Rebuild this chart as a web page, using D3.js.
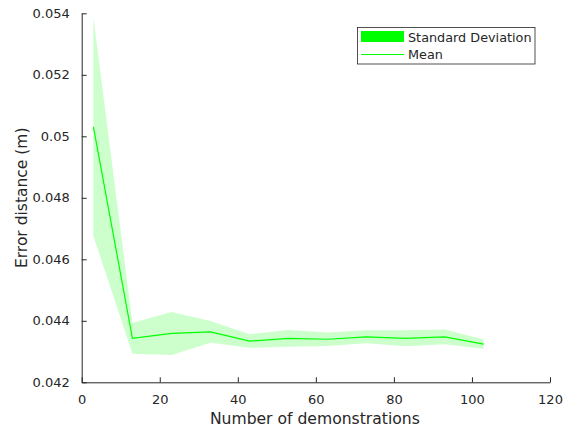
<!DOCTYPE html>
<html>
<head>
<meta charset="utf-8">
<script src="https://cdn.jsdelivr.net/npm/d3@7"></script>
<style>
  body { margin: 0; background: #fff; }
  text { font-family: "DejaVu Sans", sans-serif; fill: #262626; }
</style>
</head>
<body>
<div id="chart"></div>
<script>
// demonstrations count and error stats
const demos = [3, 13, 23, 33, 43, 53, 63, 73, 83, 93, 103];
const meanErr = [0.05031, 0.04343, 0.04359, 0.04364, 0.04334, 0.04343, 0.04340, 0.04348, 0.04343, 0.04348, 0.04324];
const stdErr = [0.00355, 0.00050, 0.00070, 0.00035, 0.00022, 0.00027, 0.00022, 0.00021, 0.00026, 0.00024, 0.00015];
const xTicks = [0, 20, 40, 60, 80, 100, 120];
const yTicks = [0.042, 0.044, 0.046, 0.048, 0.05, 0.052, 0.054];

const width = 569, height = 427;
const mLeft = 81.7, mRight = 550, mTop = 13.3, mBottom = 382.3;

let data = demos.map((d, i) => ({ x: d, m: meanErr[i], s: stdErr[i] }));

let svg = d3.select("#chart").append("svg")
  .attr("width", width)
  .attr("height", height);

let x = d3.scaleLinear().domain([0, 120]).range([mLeft, mRight]);
let y = d3.scaleLinear().domain([0.042, 0.054]).range([mBottom, mTop]);

// std band
let area = d3.area()
  .x(d => x(d.x))
  .y0(d => y(d.m - d.s))
  .y1(d => y(d.m + d.s));
svg.append("path").datum(data)
  .attr("d", area)
  .attr("fill", "#ccffcc");

// mean line
let line = d3.line().x(d => x(d.x)).y(d => y(d.m));
svg.append("path").datum(data)
  .attr("d", line)
  .attr("fill", "none")
  .attr("stroke", "#00ff00")
  .attr("stroke-width", 1.2);

// axes, ticks inside like matlab
let xAxis = d3.axisBottom(x).tickValues(xTicks).tickSizeInner(-5).tickSizeOuter(0).tickPadding(12);
let yAxis = d3.axisLeft(y).tickValues(yTicks).tickFormat(d => d3.format("")(+d.toFixed(3))).tickSizeInner(-5).tickSizeOuter(0).tickPadding(12);

let gx = svg.append("g").attr("transform", `translate(0,${mBottom})`).call(xAxis);
let gy = svg.append("g").attr("transform", `translate(${mLeft},0)`).call(yAxis);
[gx, gy].forEach(g => {
  g.selectAll("path,line").attr("stroke", "#262626");
  g.selectAll("text").attr("font-size", 13).attr("fill", "#404040").attr("font-family", "DejaVu Sans");
});
gx.selectAll("text").attr("dy", "0.71em");

svg.append("text")
  .attr("x", (mLeft + mRight) / 2 - 1)
  .attr("y", 424)
  .attr("text-anchor", "middle")
  .attr("font-size", 15.6)
  .text("Number of demonstrations");

svg.append("text")
  .attr("transform", `translate(27,${(mTop + mBottom) / 2}) rotate(-90)`)
  .attr("text-anchor", "middle")
  .attr("font-size", 15.5)
  .text("Error distance (m)");

// legend
let lg = svg.append("g");
lg.append("rect")
  .attr("x", 357.5).attr("y", 27.5)
  .attr("width", 177.5).attr("height", 36.5)
  .attr("fill", "#fff").attr("stroke", "#262626").attr("stroke-width", 0.8);
lg.append("rect")
  .attr("x", 361).attr("y", 31)
  .attr("width", 43).attr("height", 11)
  .attr("fill", "#00ff00");
lg.append("line")
  .attr("x1", 361).attr("x2", 404)
  .attr("y1", 54.5).attr("y2", 54.5)
  .attr("stroke", "#00ff00").attr("stroke-width", 1);
lg.append("text").attr("x", 408).attr("y", 41.5).attr("font-size", 12.8).text("Standard Deviation");
lg.append("text").attr("x", 408).attr("y", 59).attr("font-size", 12.8).text("Mean");
</script>
</body>
</html>
